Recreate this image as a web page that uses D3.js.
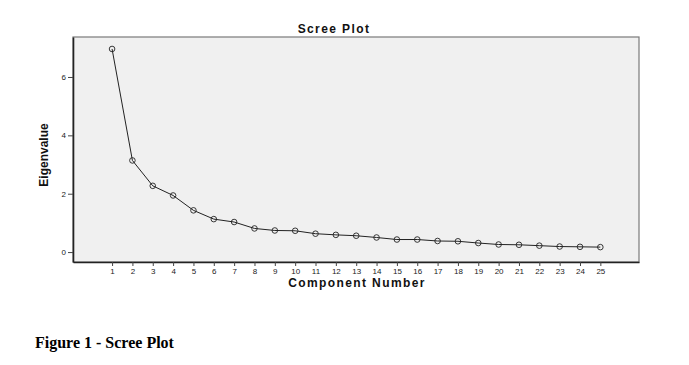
<!DOCTYPE html>
<html>
<head>
<meta charset="utf-8">
<script src="https://cdn.jsdelivr.net/npm/d3@7"></script>
<style>
html,body{margin:0;padding:0;background:#fff;}
svg{display:block;}
</style>
</head>
<body>
<script>
const components = d3.range(1, 26);
const eigenvalues = [6.96, 3.14, 2.27, 1.94, 1.43, 1.13, 1.03, 0.81, 0.74, 0.73, 0.63, 0.59, 0.56, 0.50, 0.43, 0.43, 0.38, 0.37, 0.31, 0.26, 0.25, 0.22, 0.19, 0.18, 0.17];
const yTicks = [0, 2, 4, 6];
const title = "Scree Plot";
const xLabel = "Component Number";
const yLabel = "Eigenvalue";
const caption = "Figure 1 - Scree Plot";

const W = 689, H = 365;
const plot = {left: 73, top: 37, right: 639, bottom: 262};

const svg = d3.select("body").append("svg").attr("width", W).attr("height", H);

const x = d3.scaleLinear().domain([-0.92, 26.9]).range([plot.left, plot.right]);
const y = d3.scaleLinear().domain([-0.34, 7.37]).range([plot.bottom, plot.top]);

// plot background
svg.append("rect")
  .attr("x", plot.left).attr("y", plot.top)
  .attr("width", plot.right - plot.left).attr("height", plot.bottom - plot.top)
  .attr("fill", "#f0f0f0").attr("stroke", "#7a7a7a").attr("stroke-width", 1.2);

// axes
const xAxis = d3.axisBottom(x).tickValues(components).tickSize(4).tickPadding(2).tickSizeOuter(0);
const gx = svg.append("g").attr("transform", `translate(0,${plot.bottom})`).call(xAxis);
gx.select(".domain").attr("stroke", "#222").attr("stroke-width", 1.6);
gx.selectAll(".tick line").attr("stroke", "#444");
gx.selectAll("text").attr("font-family", "Arial, 'Liberation Sans', sans-serif").attr("font-size", 8).attr("fill", "#222");

const yAxis = d3.axisLeft(y).tickValues(yTicks).tickSize(5).tickPadding(2).tickSizeOuter(0);
const gy = svg.append("g").attr("transform", `translate(${plot.left},0)`).call(yAxis);
gy.select(".domain").attr("stroke", "#222").attr("stroke-width", 1.6);
gy.selectAll(".tick line").attr("stroke", "#444");
gy.selectAll("text").attr("font-family", "Arial, 'Liberation Sans', sans-serif").attr("font-size", 8).attr("fill", "#222");

// line
const data = components.map((c, i) => ({c, v: eigenvalues[i]}));
svg.append("path").datum(data)
  .attr("fill", "none").attr("stroke", "#222").attr("stroke-width", 1)
  .attr("d", d3.line().x(d => x(d.c)).y(d => y(d.v)));

svg.selectAll("circle.pt").data(data).enter().append("circle")
  .attr("class", "pt")
  .attr("cx", d => x(d.c)).attr("cy", d => y(d.v)).attr("r", 2.8)
  .attr("fill", "none").attr("stroke", "#222").attr("stroke-width", 0.9);

// titles
svg.append("text").attr("x", 334).attr("y", 33).attr("text-anchor", "middle")
  .attr("font-family", "Arial, 'Liberation Sans', sans-serif").attr("font-weight", "bold").attr("font-size", 12)
  .attr("letter-spacing", 1.4)
  .attr("fill", "#111").text(title);

svg.append("text").attr("x", 357).attr("y", 287).attr("text-anchor", "middle")
  .attr("font-family", "Arial, 'Liberation Sans', sans-serif").attr("font-weight", "bold").attr("font-size", 12)
  .attr("letter-spacing", 1.4)
  .attr("fill", "#111").text(xLabel);

svg.append("text").attr("transform", `translate(48,155) rotate(-90)`)
  .attr("text-anchor", "middle")
  .attr("font-family", "'Liberation Sans Narrow', Arial, 'Liberation Sans', sans-serif").attr("font-weight", "bold").attr("font-size", 12)
  .attr("fill", "#111").text(yLabel);

svg.append("text").attr("x", 35).attr("y", 348)
  .attr("font-family", "'Liberation Serif', 'Times New Roman', serif").attr("font-weight", "bold").attr("font-size", 16)
  .attr("fill", "#000").text(caption);
</script>
</body>
</html>
